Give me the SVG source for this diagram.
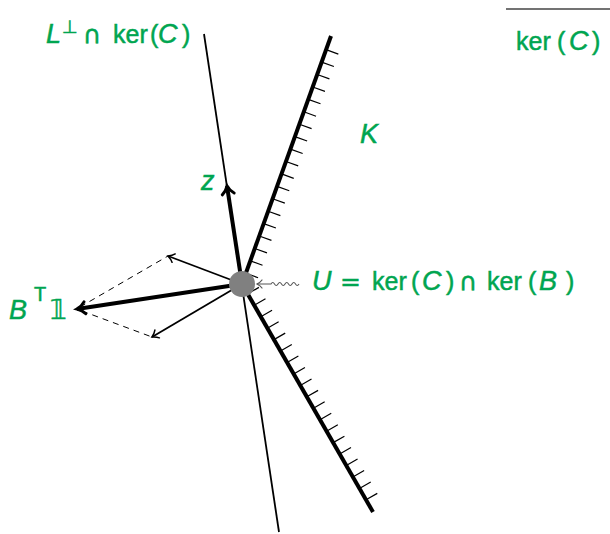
<svg xmlns="http://www.w3.org/2000/svg" width="610" height="534" viewBox="0 0 610 534">
<style>
  .lbl { font-family: "Liberation Sans", Arial, sans-serif; font-size: 25px; fill: #00a550; stroke: #00a550; stroke-width: 0.5; }
  .it { font-style: italic; font-size: 27px; }
  .sym { font-family: "DejaVu Sans", sans-serif; }
  .thick { stroke: #000; stroke-width: 4; fill: none; }
  .thin { stroke: #000; stroke-width: 1.8; fill: none; }
  .ticks { stroke: #000; stroke-width: 13; stroke-dasharray: 1.2 12; fill: none; }
</style>
<defs>
  <marker id="toThick" markerUnits="userSpaceOnUse" viewBox="-12 -9 16 18" markerWidth="16" markerHeight="18" refX="0" refY="0" orient="auto" overflow="visible">
    <path d="M -8,-6 C -5.5,-2.5 -1.5,-0.6 0,0 C -1.5,0.6 -5.5,2.5 -8,6" stroke="#000" stroke-width="3" fill="none" stroke-linecap="round"/>
  </marker>
  <marker id="toThin" markerUnits="userSpaceOnUse" viewBox="-10 -8 14 16" markerWidth="14" markerHeight="16" refX="0" refY="0" orient="auto" overflow="visible">
    <path d="M -6,-4.5 C -4,-2 -1,-0.5 0,0 C -1,0.5 -4,2 -6,4.5" stroke="#000" stroke-width="1.5" fill="none" stroke-linecap="round"/>
  </marker>
  <marker id="toGrey" markerUnits="userSpaceOnUse" viewBox="-10 -8 14 16" markerWidth="14" markerHeight="16" refX="0" refY="0" orient="auto-start-reverse" overflow="visible">
    <path d="M -5,-4 C -3.5,-1.8 -1,-0.5 0,0 C -1,0.5 -3.5,1.8 -5,4" stroke="#555" stroke-width="1.2" fill="none" stroke-linecap="round"/>
  </marker>
</defs>

<g id="connectors">
  <line class="thin" x1="204" y1="34" x2="279" y2="532"/>
  <line class="thick" x1="242" y1="284" x2="331" y2="36"/>
  <line class="thick" x1="242" y1="284" x2="373" y2="512"/>
  <line class="ticks" x1="251.75" y1="276.08" x2="332.47" y2="51.18"/>
  <line class="ticks" x1="252.98" y1="290.08" x2="372.01" y2="497.22"/>
  <line class="thick" x1="242" y1="284" x2="227" y2="186" marker-end="url(#toThick)"/>
  <line class="thick" x1="242" y1="284" x2="77" y2="309" marker-end="url(#toThick)"/>
  <line class="thin" x1="242" y1="284" x2="168" y2="256" marker-end="url(#toThin)"/>
  <line class="thin" x1="242" y1="284" x2="152" y2="337" marker-end="url(#toThin)"/>
  <line x1="80" y1="307" x2="168" y2="256" stroke="#000" stroke-width="1" stroke-dasharray="6 5"/>
  <line x1="82" y1="311" x2="152" y2="337" stroke="#000" stroke-width="1" stroke-dasharray="6 5"/>
  <path d="M 257 284 L 271 284 q 1.75 -3 3.5 0 t 3.5 0 t 3.5 0 t 3.5 0 t 3.5 0 t 3.5 0 t 3.5 0 t 3.5 0" stroke="#555" stroke-width="1.1" fill="none" marker-start="url(#toGrey)"/>
  <line x1="506" y1="9" x2="610" y2="9" stroke="#444" stroke-width="1.5"/>
</g>

<g id="node-U">
  <circle cx="242" cy="284" r="13" fill="#808080"/>
</g>

<g id="label-Lperp">
  <text class="lbl" y="43"><tspan class="it" x="46">L</tspan><tspan class="sym" x="62" y="33" font-size="18">⊥</tspan><tspan class="sym" x="83" y="43">∩</tspan><tspan x="113">ker</tspan><tspan x="150">(</tspan><tspan class="it" x="158">C</tspan><tspan x="182">)</tspan></text>
</g>
<g id="label-kerC">
  <text class="lbl" y="50"><tspan x="516">ker</tspan><tspan x="557">(</tspan><tspan class="it" x="569">C</tspan><tspan x="592">)</tspan></text>
</g>
<g id="label-K">
  <text class="lbl it" x="360" y="143">K</text>
</g>
<g id="label-z">
  <text class="lbl it" x="201" y="190">z</text>
</g>
<g id="label-BT1">
  <text class="lbl" y="319"><tspan class="it" x="9" font-size="29">B</tspan><tspan x="34" y="301" font-size="20">T</tspan><tspan class="sym" x="50" y="319" font-size="26">𝟙</tspan></text>
</g>
<g id="label-U">
  <text class="lbl" y="290"><tspan class="it" x="312">U</tspan><tspan class="sym" x="340">=</tspan><tspan x="372">ker</tspan><tspan x="411">(</tspan><tspan class="it" x="422">C</tspan><tspan x="446">)</tspan><tspan class="sym" x="459">∩</tspan><tspan x="487">ker</tspan><tspan x="528">(</tspan><tspan class="it" x="539">B</tspan><tspan x="566">)</tspan></text>
</g>
</svg>
